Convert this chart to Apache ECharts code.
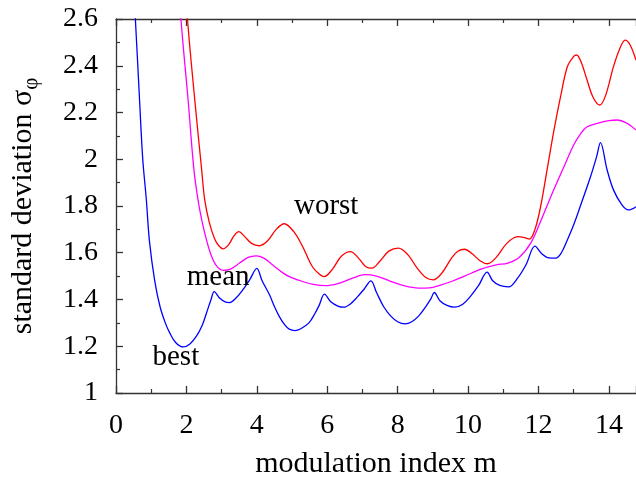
<!DOCTYPE html>
<html>
<head>
<meta charset="utf-8">
<script src="https://cdn.jsdelivr.net/npm/echarts@6/dist/echarts.min.js"></script>
<style>html,body{margin:0;padding:0;background:#fff}#c{width:636px;height:485px}</style>
</head>
<body>
<div id="c"></div>
<script>
// ---- data (x = modulation index m, y = standard deviation) ----
const bestX = [0.45,0.55,0.67,0.76,0.86,0.95,1.10,1.25,1.40,1.53,1.70,1.91,2.10,2.28,2.45,2.57,2.70,2.79,2.95,3.10,3.23,3.40,3.60,3.80,4.00,4.15,4.36,4.50,4.64,4.80,4.92,5.08,5.25,5.48,5.65,5.77,5.92,6.10,6.30,6.47,6.65,6.85,7.05,7.24,7.40,7.60,7.80,8.00,8.21,8.40,8.60,8.80,8.95,9.04,9.20,9.40,9.62,9.85,10.05,10.30,10.54,10.70,10.90,11.15,11.40,11.65,11.90,12.10,12.30,12.49,12.65,12.82,13.00,13.19,13.48,13.65,13.76,13.95,14.13,14.37,14.56,14.77];
const bestY = [2.85,2.60,2.25,2.00,1.83,1.65,1.48,1.37,1.30,1.256,1.215,1.197,1.210,1.242,1.29,1.342,1.40,1.434,1.405,1.390,1.387,1.405,1.441,1.485,1.533,1.48,1.42,1.37,1.327,1.29,1.273,1.267,1.275,1.30,1.34,1.375,1.423,1.39,1.372,1.367,1.38,1.41,1.445,1.480,1.43,1.37,1.33,1.305,1.296,1.305,1.33,1.37,1.405,1.430,1.395,1.375,1.367,1.38,1.41,1.46,1.517,1.48,1.46,1.454,1.49,1.55,1.628,1.595,1.578,1.577,1.60,1.655,1.72,1.80,1.926,2.01,2.071,1.954,1.869,1.805,1.783,1.797];

const meanX = [1.75,1.845,2.05,2.21,2.33,2.45,2.57,2.70,2.85,3.04,3.25,3.50,3.75,3.98,4.20,4.45,4.73,4.92,5.30,5.60,5.95,6.30,6.70,7.08,7.40,7.80,8.20,8.59,8.90,9.24,9.53,9.90,10.37,10.80,11.13,11.45,11.78,12.05,12.35,12.70,13.00,13.20,13.38,13.70,14.00,14.23,14.50,14.77];
const meanY = [2.85,2.60,2.25,1.96,1.826,1.73,1.655,1.59,1.545,1.525,1.53,1.555,1.580,1.587,1.577,1.548,1.515,1.498,1.477,1.465,1.459,1.468,1.490,1.506,1.500,1.478,1.458,1.449,1.450,1.463,1.477,1.50,1.530,1.548,1.556,1.58,1.641,1.73,1.84,1.96,2.061,2.11,2.139,2.155,2.165,2.168,2.155,2.125];

const worstX = [1.93,2.03,2.24,2.43,2.52,2.65,2.80,2.92,3.04,3.20,3.35,3.49,3.65,3.85,4.07,4.30,4.55,4.78,5.05,5.29,5.39,5.58,5.75,5.91,6.15,6.40,6.66,6.90,7.10,7.27,7.50,7.75,8.02,8.30,8.55,8.80,9.01,9.24,9.53,9.70,9.90,10.10,10.35,10.55,10.80,11.10,11.41,11.60,11.74,11.90,12.06,12.25,12.44,12.63,12.82,13.00,13.08,13.20,13.38,13.55,13.74,13.90,14.13,14.30,14.46,14.60,14.77];
const worstY = [2.85,2.60,2.25,1.96,1.826,1.73,1.66,1.63,1.617,1.635,1.672,1.690,1.670,1.64,1.630,1.650,1.700,1.724,1.69,1.63,1.598,1.54,1.512,1.498,1.53,1.585,1.605,1.575,1.540,1.534,1.565,1.607,1.620,1.590,1.535,1.494,1.484,1.510,1.577,1.605,1.615,1.598,1.565,1.553,1.580,1.640,1.669,1.665,1.658,1.70,1.797,1.96,2.125,2.27,2.396,2.440,2.446,2.42,2.339,2.265,2.232,2.27,2.396,2.47,2.510,2.49,2.424];

const xTicks = [0,2,4,6,8,10,12,14];
const yTicks = [1,1.2,1.4,1.6,1.8,2,2.2,2.4,2.6];
const curveNames = ['best','mean','worst'];
const labelX = [1.70, 2.90, 5.97];
const labelY = [1.153, 1.495, 1.800];

const FONT = '"Liberation Serif","Times New Roman",serif';
function pairs(xs, ys){ return xs.map((x,i)=>[x, ys[i]]); }

const chart = echarts.init(document.getElementById('c'), null, {renderer:'canvas'});
const axisLineStyle = {color:'#333', width:1.3};
const baseX = {
  type:'value', min:0, max:14.77, interval:2,
  axisLine:{show:true, onZero:false, lineStyle:axisLineStyle},
  axisTick:{show:true, inside:true, length:7, lineStyle:axisLineStyle},
  minorTick:{show:true, splitNumber:2, length:4, lineStyle:{color:'#333', width:1.2}},
  splitLine:{show:false}
};
const colors = ['#0000ff','#ff00ff','#ff0000'];
const ys = [bestY, meanY, worstY];
const xs = [bestX, meanX, worstX];

const series = curveNames.map((n,i)=>({
  name:n, type:'line', data:pairs(xs[i], ys[i]), showSymbol:false, smooth:0.35,
  lineStyle:{color:colors[i], width:1.3}, clip:true, silent:true,
  markPoint:{
    symbol:'circle', symbolSize:0, silent:true,
    label:{show:true, position:'inside', formatter:n, color:'#000', fontFamily:FONT, fontSize:29},
    data:[{coord:[labelX[i], labelY[i]]}]
  }
}));

chart.setOption({
  animation:false,
  backgroundColor:'#fff',
  grid:{left:112, top:19, right:0, height:374, containLabel:false},
  xAxis:[
    Object.assign({}, baseX, {
      position:'bottom',
      name:'modulation index m', nameLocation:'middle', nameGap:56,
      nameTextStyle:{fontFamily:FONT, fontSize:30, color:'#000'},
      axisLabel:{show:true, margin:19, fontFamily:FONT, fontSize:28, color:'#000',
        showMaxLabel:false,
        formatter:v=> xTicks.indexOf(v) >= 0 ? String(v) : ''}
    }),
    Object.assign({}, baseX, {position:'top', axisLabel:{show:false}})
  ],
  yAxis:[{
    type:'value', min:1, max:2.6, interval:0.2,
    axisLine:{show:true, onZero:false, lineStyle:axisLineStyle},
    axisTick:{show:true, inside:true, length:7, lineStyle:axisLineStyle},
    minorTick:{show:true, splitNumber:2, length:4, lineStyle:{color:'#333', width:1.2}},
    splitLine:{show:false},
    axisLabel:{show:true, margin:18, fontFamily:FONT, fontSize:28, color:'#000',
      formatter:v=>{ const r = Math.round(v*10)/10; return yTicks.indexOf(r) >= 0 ? String(r) : ''; }},
    name:'{a|standard deviation σ}{b|φ}', nameLocation:'middle', nameRotate:90, nameGap:74,
    nameTextStyle:{fontFamily:FONT, fontSize:30, color:'#000',
      rich:{a:{fontFamily:FONT, fontSize:30, color:'#000'},
            b:{fontFamily:FONT, fontSize:21, color:'#000', padding:[17,0,0,0]}}}
  }],
  series: series
});
</script>
</body>
</html>
